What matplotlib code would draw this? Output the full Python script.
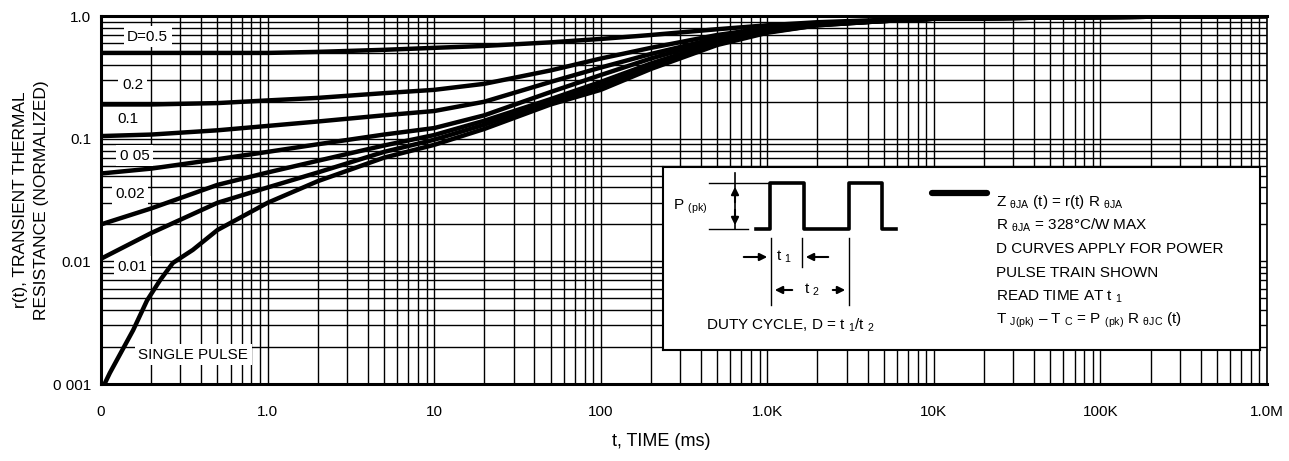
import numpy as np
import matplotlib
matplotlib.use("Agg")
import matplotlib.pyplot as plt

plt.rcParams['font.family'] = ['Liberation Sans', 'DejaVu Sans']
plt.rcParams['mathtext.fontset'] = 'custom'
plt.rcParams['mathtext.rm'] = 'Liberation Sans'
plt.rcParams['mathtext.it'] = 'Liberation Sans:italic'
plt.rcParams['mathtext.bf'] = 'Liberation Sans:bold'

# time axis points (ms) shared by the duty cycle curves
t_ms = [0.1, 0.2, 0.5, 1, 2, 5, 10, 20, 50, 100, 200, 500,
        1e3, 2e3, 5e3, 1e4, 1e5, 1e6]

r_d050 = [0.50, 0.50, 0.50, 0.50, 0.51, 0.53, 0.55, 0.57, 0.61, 0.65, 0.70, 0.78,
          0.84, 0.89, 0.93, 0.95, 0.98, 1.0]
r_d020 = [0.19, 0.19, 0.195, 0.205, 0.215, 0.235, 0.25, 0.28, 0.36, 0.45, 0.55, 0.70,
          0.80, 0.87, 0.92, 0.95, 0.98, 1.0]
r_d010 = [0.105, 0.108, 0.117, 0.127, 0.138, 0.155, 0.168, 0.20, 0.29, 0.38, 0.49, 0.66,
          0.78, 0.86, 0.92, 0.95, 0.98, 1.0]
r_d005 = [0.052, 0.057, 0.068, 0.078, 0.09, 0.108, 0.122, 0.155, 0.24, 0.33, 0.45, 0.64,
          0.77, 0.85, 0.91, 0.95, 0.98, 1.0]
r_d002 = [0.020, 0.027, 0.042, 0.053, 0.066, 0.088, 0.107, 0.14, 0.21, 0.29, 0.41, 0.61,
          0.75, 0.85, 0.91, 0.95, 0.98, 1.0]
r_d001 = [0.0105, 0.017, 0.030, 0.040, 0.053, 0.078, 0.098, 0.13, 0.20, 0.27, 0.39, 0.60,
          0.74, 0.84, 0.91, 0.95, 0.98, 1.0]

# single pulse has its own time points
t_single = [0.105, 0.113, 0.156, 0.189, 0.226, 0.27, 0.356, 0.5, 1, 2, 5, 10, 20, 50,
            100, 200, 500, 1e3, 2e3, 5e3, 1e4, 1e5, 1e6]
r_single = [0.001, 0.00123, 0.00275, 0.0048, 0.007, 0.0097, 0.0124, 0.018, 0.030, 0.045,
            0.070, 0.089, 0.12, 0.19, 0.25, 0.37, 0.58, 0.73, 0.84, 0.91, 0.95, 0.98, 1.0]

xtick_vals = [0.1, 1, 10, 100, 1e3, 1e4, 1e5, 1e6]
xtick_labels = ['0', '1.0', '10', '100', '1.0K', '10K', '100K', '1.0M']
ytick_vals = [0.001, 0.01, 0.1, 1.0]
ytick_labels = ['0 001', '0.01', '0.1', '1.0']

curve_labels = ['D=0.5', '0.2', '0.1', '0 05', '0.02', '0.01', 'SINGLE PULSE']

W, H = 1289, 461
fig = plt.figure(figsize=(W / 100, H / 100), dpi=100)
ax = fig.add_axes([101 / W, 1 - 384 / H, 1166 / W, 368 / H])

for r in [r_d050, r_d020, r_d010, r_d005, r_d002, r_d001]:
    ax.plot(t_ms, r, color='black', lw=3.2, solid_capstyle='butt',
            solid_joinstyle='round', zorder=3)
ax.plot(t_single, r_single, color='black', lw=3.2, solid_capstyle='butt',
        solid_joinstyle='round', zorder=3)

ax.set_xscale('log')
ax.set_yscale('log')
ax.set_xlim(0.1, 1e6)
ax.set_ylim(0.001, 1.0)
ax.set_xticks(xtick_vals)
ax.set_xticklabels(xtick_labels)
ax.set_yticks(ytick_vals)
ax.set_yticklabels(ytick_labels)
ax.xaxis.set_minor_locator(matplotlib.ticker.LogLocator(base=10, subs=np.arange(2, 10)))
ax.yaxis.set_minor_locator(matplotlib.ticker.LogLocator(base=10, subs=np.arange(2, 10)))
ax.xaxis.set_minor_formatter(matplotlib.ticker.NullFormatter())
ax.yaxis.set_minor_formatter(matplotlib.ticker.NullFormatter())
ax.tick_params(which='both', length=0, labelsize=11)
ax.tick_params(axis='x', pad=15)
ax.tick_params(axis='y', pad=7)
ax.grid(True, which='both', color='black', lw=1.0)
for side in ['left', 'bottom', 'top']:
    ax.spines[side].set_linewidth(2.2)
ax.spines['right'].set_linewidth(1.2)

# curve labels (axes fraction positions)
label_pos = [(0.040, 0.943), (0.027, 0.8125), (0.023, 0.720), (0.029, 0.620),
             (0.025, 0.516), (0.027, 0.318), (0.079, 0.079)]
for txt, (fx, fy) in zip(curve_labels, label_pos):
    ax.text(fx, fy, txt, transform=ax.transAxes, ha='center', va='center', fontsize=11,
            zorder=4, bbox=dict(facecolor='white', edgecolor='none', pad=2.5))

fig.text(31 / W, 1 - 200 / H, 'r(t), TRANSIENT THERMAL\nRESISTANCE (NORMALIZED)',
         rotation=90, ha='center', va='center', multialignment='center', fontsize=12.5,
         linespacing=1.5)
fig.text(661 / W, 1 - 441 / H, 't, TIME (ms)', ha='center', va='center', fontsize=13)

# inset box drawn in its own pixel-like coordinates
x0, x1, y0, y1 = 663, 1260, 167, 350
axi = fig.add_axes([x0 / W, 1 - y1 / H, (x1 - x0) / W, (y1 - y0) / H], zorder=5)
axi.set_xlim(x0, x1)
axi.set_ylim(y1, y0)
axi.set_xticks([])
axi.set_yticks([])
for s in axi.spines.values():
    s.set_linewidth(1.5)

# pulse train
axi.plot([756, 770, 770, 804, 804, 849, 849, 882, 882, 896],
         [229, 229, 183, 183, 229, 229, 183, 183, 229, 229], color='black', lw=2.6)
axi.plot([709, 768], [183, 183], color='black', lw=1.0)
axi.plot([709, 748], [229, 229], color='black', lw=1.0)
axi.plot([735, 735], [173, 229], color='black', lw=1.2)
arr = dict(arrowstyle='-|>', color='black', lw=1.5, mutation_scale=11)
axi.annotate('', xy=(735, 184), xytext=(735, 205), arrowprops=arr)
axi.annotate('', xy=(735, 228), xytext=(735, 207), arrowprops=arr)
axi.text(690, 207, 'P $_{\\mathrm{(pk)}}$', ha='center', va='center', fontsize=11)

# t1 / t2 markers
axi.plot([771, 771], [238, 305], color='black', lw=1.0)
axi.plot([802, 802], [238, 267], color='black', lw=1.0)
axi.plot([849, 849], [238, 305], color='black', lw=1.0)
axi.annotate('', xy=(770, 257), xytext=(741, 257), arrowprops=arr)
axi.annotate('', xy=(803, 257), xytext=(831, 257), arrowprops=arr)
axi.text(776, 257, 't $_1$', ha='left', va='center', fontsize=11)
axi.annotate('', xy=(772, 290), xytext=(795, 290), arrowprops=arr)
axi.annotate('', xy=(848, 290), xytext=(830, 290), arrowprops=arr)
axi.text(812, 290, 't $_2$', ha='center', va='center', fontsize=11)
axi.text(706, 325, 'DUTY CYCLE, D = t $_1$/t $_2$', ha='left', va='center', fontsize=11)

# legend line and notes
axi.plot([932, 987], [193, 193], color='black', lw=4.5, solid_capstyle='round')
notes = ['Z $_{\\mathrm{\u03b8JA}}$ (t) = r(t) R $_{\\mathrm{\u03b8JA}}$',
         'R $_{\\mathrm{\u03b8JA}}$ = 328°C/W MAX',
         'D CURVES APPLY FOR POWER',
         'PULSE TRAIN SHOWN',
         'READ TIME AT t $_1$',
         'T $_{\\mathrm{J(pk)}}$ \u2013 T $_{\\mathrm{C}}$ = P $_{\\mathrm{(pk)}}$ R $_{\\mathrm{\u03b8JC}}$ (t)']
for i, line in enumerate(notes):
    axi.text(996, 202 + i * 23.6, line, ha='left', va='center', fontsize=11)

fig.savefig('out.png', dpi=100)
